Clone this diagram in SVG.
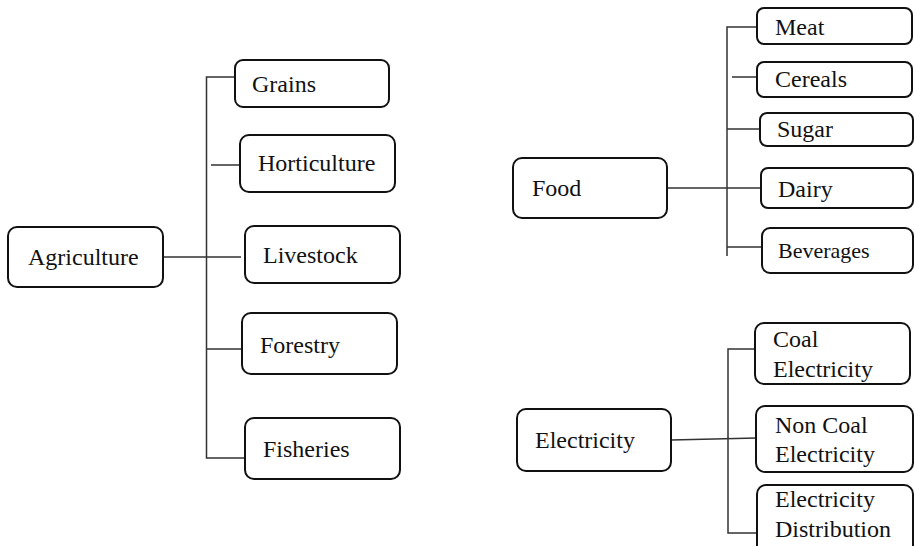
<svg xmlns="http://www.w3.org/2000/svg" width="914" height="546" viewBox="0 0 914 546">
<style>
.box{fill:#fff;stroke:#111;stroke-width:2}
.t{font-family:"Liberation Serif","Times New Roman",serif;font-size:24px;fill:#111}
.c{fill:none;stroke:#333;stroke-width:1.5}
</style>
<rect width="914" height="546" fill="#fff"/>
<g id="connectors">
<path class="c" d="M235,77H206.5V458H245M211,165H240M163,257H241M206.5,349H242"/>
<path class="c" d="M757,27H727V256M732,77H757M727,129H760M667,188H762M727,247H762"/>
<path class="c" d="M755,349H728V533H757M671,440L757,438"/>
</g>
<g id="agriculture"><rect class="box" x="8" y="227" width="155" height="60" rx="9"/><text class="t" x="28" y="265">Agriculture</text></g>
<g id="grains"><rect class="box" x="235" y="60" width="154" height="47" rx="8"/><text class="t" x="252" y="92">Grains</text></g>
<g id="horticulture"><rect class="box" x="240" y="135" width="155" height="57" rx="9"/><text class="t" x="258" y="171">Horticulture</text></g>
<g id="livestock"><rect class="box" x="245" y="226" width="155" height="57" rx="9"/><text class="t" x="263" y="263">Livestock</text></g>
<g id="forestry"><rect class="box" x="242" y="313" width="155" height="61" rx="9"/><text class="t" x="260" y="353">Forestry</text></g>
<g id="fisheries"><rect class="box" x="245" y="418" width="155" height="61" rx="9"/><text class="t" x="263" y="457">Fisheries</text></g>
<g id="food"><rect class="box" x="513" y="158" width="154" height="60" rx="9"/><text class="t" x="532" y="196">Food</text></g>
<g id="meat"><rect class="box" x="757" y="8" width="155" height="36" rx="7"/><text class="t" x="775" y="35">Meat</text></g>
<g id="cereals"><rect class="box" x="757" y="62" width="155" height="35" rx="7"/><text class="t" x="775" y="87">Cereals</text></g>
<g id="sugar"><rect class="box" x="760" y="113" width="153" height="33" rx="7"/><text class="t" x="777" y="137">Sugar</text></g>
<g id="dairy"><rect class="box" x="761" y="168" width="152" height="40" rx="7"/><text class="t" x="778" y="197">Dairy</text></g>
<g id="beverages"><rect class="box" x="762" y="228" width="151" height="45" rx="8"/><text class="t" x="778" y="258" style="font-size:22px">Beverages</text></g>
<g id="electricity"><rect class="box" x="517" y="409" width="154" height="62" rx="9"/><text class="t" x="535" y="448">Electricity</text></g>
<g id="coal"><rect class="box" x="755" y="323" width="155" height="61" rx="9"/><text class="t" x="773" y="347">Coal</text><text class="t" x="773" y="377">Electricity</text></g>
<g id="noncoal"><rect class="box" x="756" y="406" width="157" height="66" rx="9"/><text class="t" x="775" y="433">Non Coal</text><text class="t" x="775" y="462">Electricity</text></g>
<g id="distribution"><rect class="box" x="757" y="485" width="156" height="70" rx="9"/><text class="t" x="775" y="507">Electricity</text><text class="t" x="775" y="537">Distribution</text></g>
</svg>
